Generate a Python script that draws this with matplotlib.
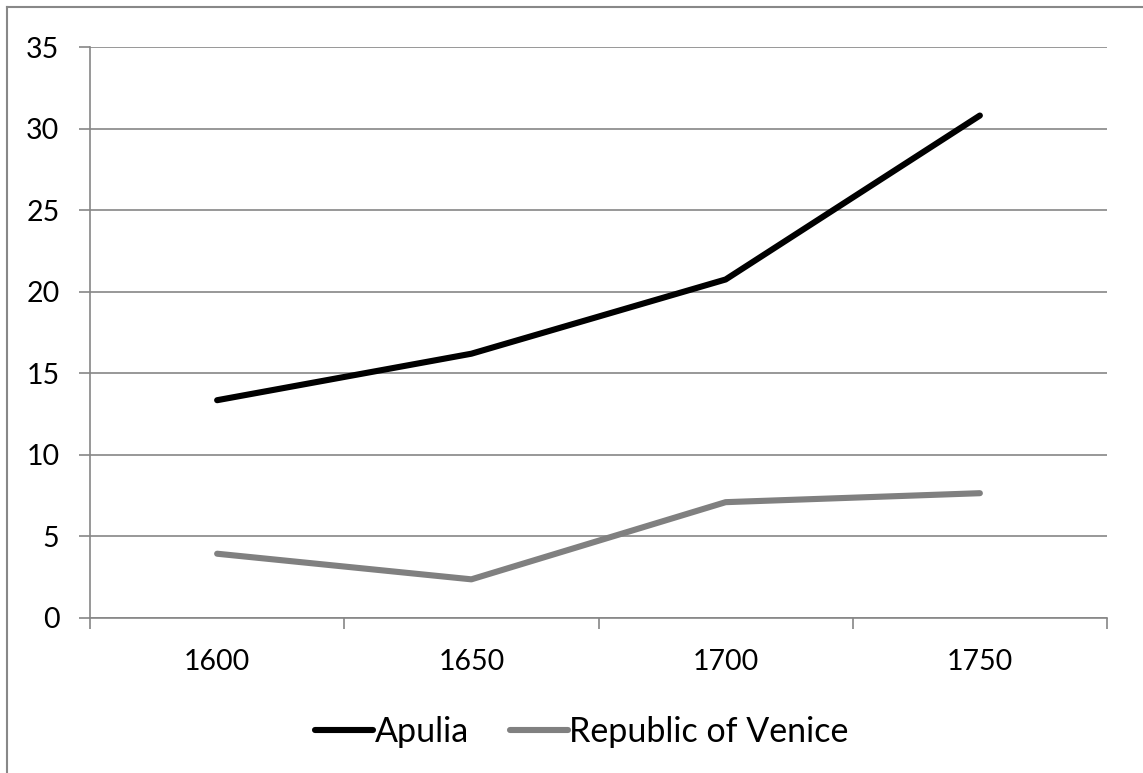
import matplotlib.pyplot as plt
from matplotlib.lines import Line2D

years = ["1600", "1650", "1700", "1750"]
apulia = [13.35, 16.2, 20.75, 30.8]
venice = [3.94, 2.37, 7.1, 7.65]
y_ticks = [0, 5, 10, 15, 20, 25, 30, 35]

W, H = 1143, 773
fig = plt.figure(figsize=(W / 100, H / 100), dpi=100)
plt.rcParams["font.family"] = ["Lato", "DejaVu Sans"]

ax = fig.add_axes([90 / W, 1 - 618 / H, (1107 - 90) / W, (618 - 47) / H])

grid_col = "#868686"
x = list(range(len(years)))
ax.plot(x, apulia, color="black", lw=4.4, solid_capstyle="round",
        solid_joinstyle="round", label="Apulia", zorder=3)
ax.plot(x, venice, color="#808080", lw=4.4, solid_capstyle="round",
        solid_joinstyle="round", label="Republic of Venice", zorder=3)

ax.set_xlim(-0.5, len(years) - 0.5)
ax.set_ylim(0, 35)
ax.set_yticks(y_ticks)
ax.set_yticklabels([str(v) for v in y_ticks])
ax.yaxis.grid(True, color=grid_col, lw=1.2)
ax.set_axisbelow(True)

# category axis: ticks on the boundaries, labels at the centres
ax.set_xticks([i - 0.5 for i in range(len(years) + 1)])
ax.set_xticklabels([])
ax.set_xticks(x, minor=True)
ax.set_xticklabels(years, minor=True)
ax.tick_params(axis="x", which="minor", length=0, pad=22, labelsize=20.5)
ax.tick_params(axis="x", which="major", length=8, width=1.2, color=grid_col, direction="out")
ax.tick_params(axis="y", length=8, width=1.2, color=grid_col, direction="out", pad=14, labelsize=20.5)

for s in ["top", "right"]:
    ax.spines[s].set_visible(False)
for s in ["left", "bottom"]:
    ax.spines[s].set_color(grid_col)
    ax.spines[s].set_linewidth(1.2)

fig.legend(loc="center", bbox_to_anchor=(582 / W, 1 - 732 / H), ncol=2, frameon=False,
           fontsize=24.5, handlelength=1.7, handletextpad=0.05, columnspacing=1.2)

# outer chart border
fig.add_artist(Line2D([7 / W, 7 / W], [0, 1 - 7 / H], color="#888888", lw=1.5))
fig.add_artist(Line2D([7 / W, 1], [1 - 7 / H, 1 - 7 / H], color="#888888", lw=1.5))

fig.savefig("out.png", dpi=100)
